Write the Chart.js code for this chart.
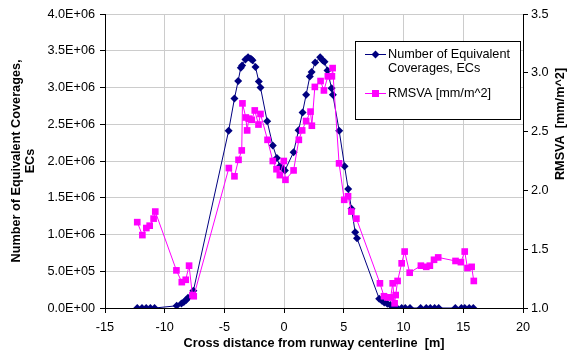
<!DOCTYPE html>
<html>
<head>
<meta charset="utf-8">
<script src="https://cdn.jsdelivr.net/npm/chart.js@4.4.1/dist/chart.umd.min.js"></script>
<style>
  html, body { margin: 0; padding: 0; background: #fff; }
</style>
</head>
<body>
<canvas id="chart" width="567" height="354"></canvas>
<script>
// Number of equivalent coverages (left axis)
const ecDist = [-12.3, -11.9, -11.55, -11.2, -10.85, -9.0, -8.6, -8.4, -8.2, -8.05, -7.6,
  -4.65, -4.16, -3.85, -3.63, -3.52, -3.24, -3.02, -2.79, -2.65, -2.4, -2.12, -1.98, -1.42,
  -0.95, -0.61, -0.36, -0.14, 0.06, 0.79, 1.21, 1.54, 1.84, 2.15, 2.3, 2.6, 3.02, 3.22, 3.38,
  3.63, 3.97, 4.08, 4.61, 5.06, 5.36, 5.64, 5.95, 6.1, 7.96, 8.19, 8.38, 8.64, 8.89, 9.14,
  9.42, 9.84, 10.14, 10.54, 11.43, 11.9, 12.24, 12.6, 12.94, 14.33, 14.84, 15.12, 15.5, 15.84];
const ecValues = [0, 0, 0, 0, 0, 3e4, 6e4, 8e4, 1.1e5, 1.4e5, 2.35e5,
  2.41e6, 2.85e6, 3.09e6, 3.27e6, 3.30e6, 3.38e6, 3.41e6, 3.39e6, 3.37e6, 3.28e6, 3.08e6, 3.00e6, 2.54e6,
  2.21e6, 2.04e6, 1.93e6, 1.90e6, 1.87e6, 2.12e6, 2.42e6, 2.66e6, 2.90e6, 3.15e6, 3.21e6, 3.34e6, 3.41e6, 3.37e6, 3.35e6,
  3.23e6, 2.99e6, 2.90e6, 2.41e6, 1.93e6, 1.62e6, 1.35e6, 1.03e6, 0.95e6, 1.26e5, 1.0e5, 7.6e4, 5.8e4, 4e4, 2.2e4,
  5e3, 0, 0, 0, 0, 0, 0, 0, 0, 0, 0, 0, 0, 0];

// RMSVA [mm/m^2] (right axis)
const rmsDist = [-12.3, -11.87, -11.54, -11.26, -10.93, -10.79,
  -9.02, -8.57, -8.24, -7.96, -7.68, -7.57,
  -4.63, -4.16, -3.82, -3.55, -3.49, -3.21, -3.1, -2.96, -2.71, -2.46, -2.15, -1.98, -1.39,
  -0.95, -0.64, -0.36, -0.03, 0.11, 0.79, 1.23, 1.51, 1.84, 2.21, 2.32, 2.57, 3.05, 3.33,
  3.66, 4.0, 4.06, 4.6, 5.03, 5.35, 5.63, 6.05,
  8.02, 8.36, 8.64, 8.92, 9.09, 9.25, 9.34, 9.5, 9.84, 10.09, 10.51, 11.45, 11.9, 12.2,
  12.55, 12.9, 14.35, 14.8, 15.12, 15.35, 15.7, 15.88];
const rmsValues = [1.73, 1.62, 1.68, 1.70, 1.76, 1.82,
  1.32, 1.22, 1.24, 1.36, 1.11, 1.10,
  2.19, 2.12, 2.26, 2.34, 2.74, 2.62, 2.51, 2.61, 2.60, 2.68, 2.56, 2.65, 2.43,
  2.25, 2.18, 2.13, 2.25, 2.09, 2.17, 2.43, 2.51, 2.59, 2.67, 2.55, 2.88, 2.93, 2.85,
  2.97, 2.97, 3.04, 2.23, 1.92, 1.95, 1.82, 1.76,
  1.21, 1.10, 1.09, 1.09, 1.21, 1.04, 1.11, 1.23, 1.38, 1.48, 1.30, 1.36, 1.35, 1.36,
  1.41, 1.43, 1.40, 1.39, 1.48, 1.34, 1.35, 1.23];

const xTicks = [-15, -10, -5, 0, 5, 10, 15, 20];

const ecLabel = 'Number of Equivalent Coverages, ECs';
const rmsLabel = 'RMSVA [mm/m^2]';

const FONT = 'Arial, "Liberation Sans", sans-serif';
const NAVY = '#000080';
const MAGENTA = '#ff00ff';
const GRID = '#cccccc';

Chart.defaults.font.family = FONT;
Chart.defaults.font.size = 12.7;
Chart.defaults.color = '#000';

function sci(v) {
    // 2.5E+06 style labels like Excel
    const parts = v.toExponential(1).split('e');
    const exp = parseInt(parts[1], 10);
    const sign = exp < 0 ? '-' : '+';
    return parts[0] + 'E' + sign + String(Math.abs(exp)).padStart(2, '0');
}

// legend box and right axis title drawn by hand, Excel style
const extras = {
    id: 'extras',
    afterDraw(chart) {
        const ctx = chart.ctx;
        ctx.save();

        ctx.fillStyle = '#fff';
        ctx.fillRect(355.5, 41.5, 165, 78);
        ctx.strokeStyle = '#000';
        ctx.lineWidth = 1;
        ctx.strokeRect(355.5, 41.5, 165, 78);

        // EC entry
        ctx.strokeStyle = NAVY;
        ctx.beginPath();
        ctx.moveTo(365, 54.5);
        ctx.lineTo(386, 54.5);
        ctx.stroke();
        ctx.fillStyle = NAVY;
        ctx.beginPath();
        ctx.moveTo(375.5, 50.5);
        ctx.lineTo(379.5, 54.5);
        ctx.lineTo(375.5, 58.5);
        ctx.lineTo(371.5, 54.5);
        ctx.closePath();
        ctx.fill();

        // RMSVA entry
        ctx.strokeStyle = MAGENTA;
        ctx.beginPath();
        ctx.moveTo(365, 93.5);
        ctx.lineTo(386, 93.5);
        ctx.stroke();
        ctx.fillStyle = MAGENTA;
        ctx.fillRect(372, 90, 7, 7);

        ctx.fillStyle = '#000';
        ctx.font = '12.7px ' + FONT;
        ctx.textAlign = 'left';
        ctx.textBaseline = 'middle';
        ctx.fillText('Number of Equivalent', 388, 54.5);
        ctx.fillText('Coverages, ECs', 388, 68);
        ctx.fillText(rmsLabel, 388, 93.5);

        ctx.font = 'bold 12.7px ' + FONT;
        ctx.textAlign = 'center';
        ctx.translate(560, 124);
        ctx.rotate(-Math.PI / 2);
        ctx.fillText('RMSVA  [mm/m^2]', 0, 0);

        ctx.restore();
    }
};

const ctx = document.getElementById('chart').getContext('2d');
const chart = new Chart(ctx, {
    type: 'scatter',
    data: {
        datasets: [
            {
                label: rmsLabel,
                data: rmsDist.map((d, i) => ({ x: d, y: rmsValues[i] })),
                yAxisID: 'yRight',
                showLine: true,
                borderColor: MAGENTA,
                backgroundColor: MAGENTA,
                borderWidth: 1,
                pointStyle: 'rect',
                pointRadius: 4.7,
                pointBorderWidth: 0,
                order: 0
            },
            {
                label: ecLabel,
                data: ecDist.map((d, i) => ({ x: d, y: ecValues[i] })),
                yAxisID: 'y',
                showLine: true,
                borderColor: NAVY,
                backgroundColor: NAVY,
                borderWidth: 1,
                pointStyle: 'rectRot',
                pointRadius: 4,
                pointBorderWidth: 0,
                order: 1
            }
        ]
    },
    options: {
        responsive: false,
        animation: false,
        devicePixelRatio: 1,
        layout: { padding: { top: 14, left: 0, right: 0, bottom: 0 }, autoPadding: false },
        plugins: {
            legend: { display: false },
            tooltip: { enabled: false }
        },
        scales: {
            x: {
                type: 'linear',
                min: -15,
                max: 20,
                afterBuildTicks: (scale) => { scale.ticks = xTicks.map(v => ({ value: v })); },
                afterFit: (scale) => { scale.height = 46; },
                grid: { color: GRID, tickColor: '#000', tickLength: 5 },
                border: { color: '#000' },
                ticks: { padding: 7, maxRotation: 0 },
                title: {
                    display: true,
                    text: 'Cross distance from runway centerline  [m]',
                    font: { weight: 'bold' },
                    padding: { top: 0, bottom: 3 }
                }
            },
            y: {
                position: 'left',
                min: 0,
                max: 4e6,
                afterFit: (scale) => { scale.width = 105; },
                grid: { color: GRID, tickColor: '#000', tickLength: 5 },
                border: { color: '#000' },
                ticks: { stepSize: 5e5, padding: 5, callback: (v) => sci(v) },
                title: {
                    display: true,
                    text: ['Number of Equivalent Coverages,', 'ECs'],
                    font: { weight: 'bold', lineHeight: 1.05 },
                    padding: { top: 10, bottom: 0 }
                }
            },
            yRight: {
                position: 'right',
                min: 1,
                max: 3.5,
                afterFit: (scale) => { scale.width = 44; },
                grid: { drawOnChartArea: false, tickColor: '#000', tickLength: 5 },
                border: { color: '#000' },
                ticks: { stepSize: 0.5, padding: 3 }
            }
        }
    },
    plugins: [extras]
});
</script>
</body>
</html>
